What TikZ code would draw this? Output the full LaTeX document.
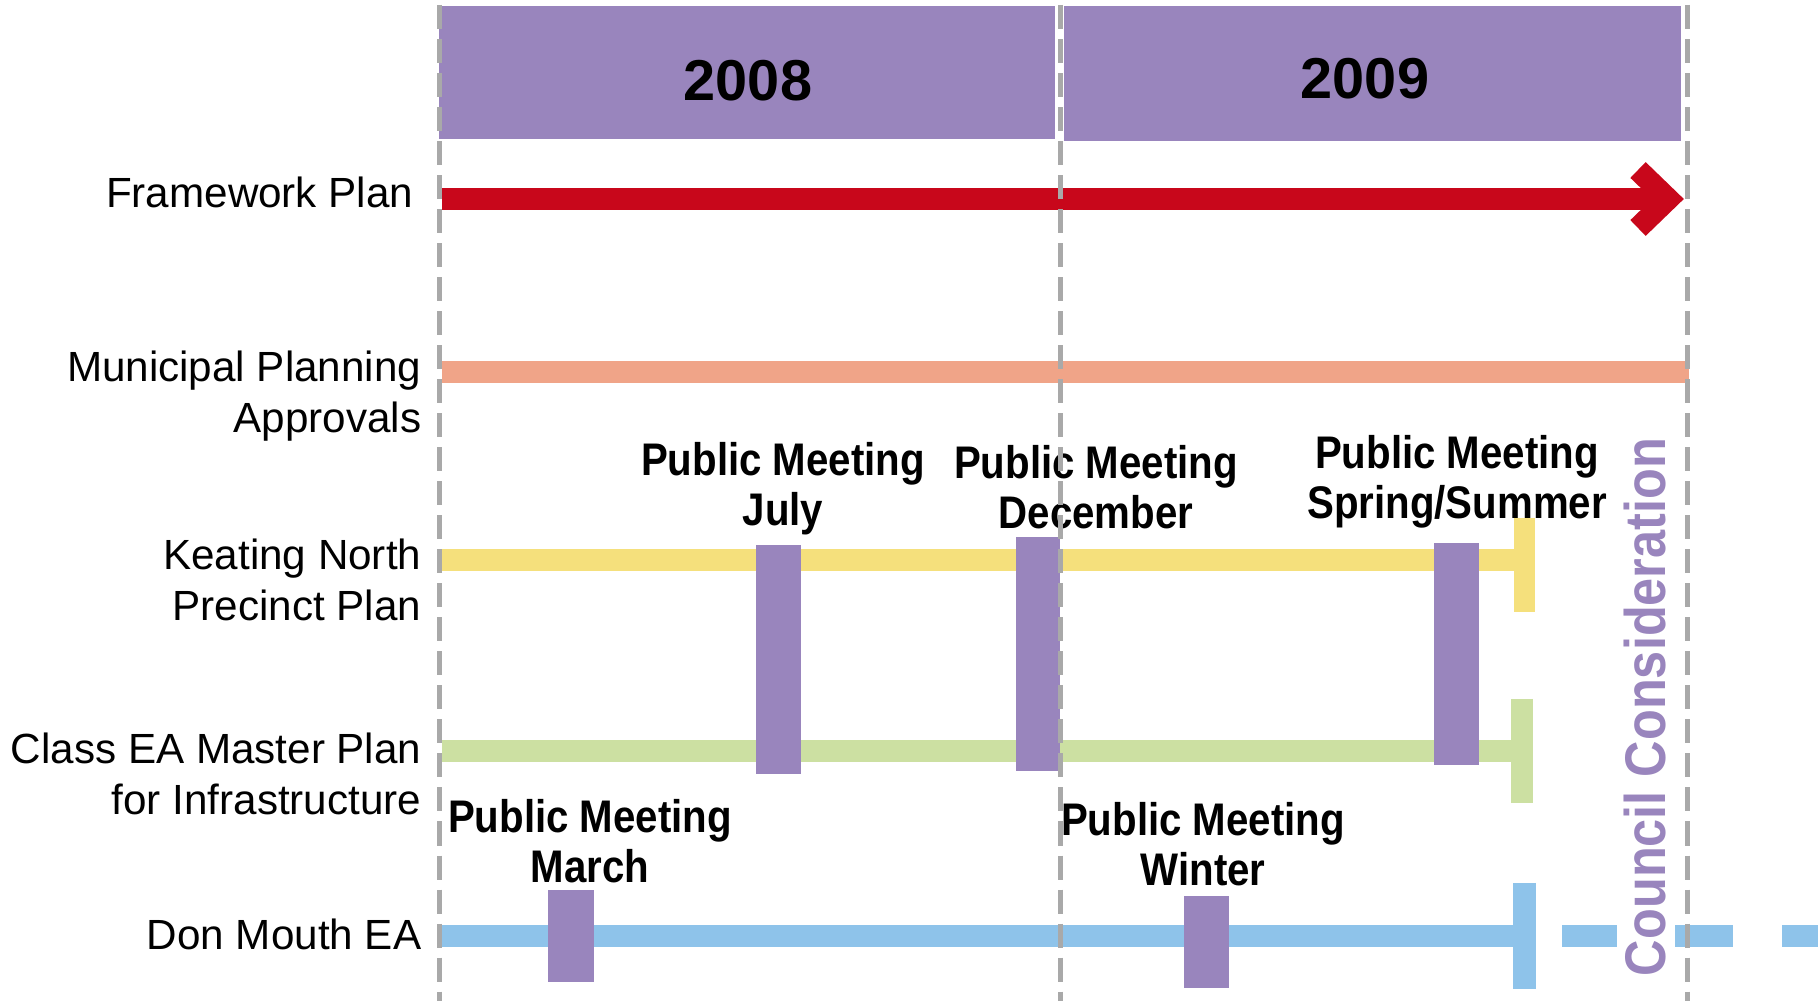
\documentclass[tikz,border=0pt]{standalone}
\usepackage{fontspec}
\setmainfont{Liberation Sans}
\newfontfamily\pmfont{Liberation Sans}[FakeStretch=0.88]
\definecolor{pm}{HTML}{9985BD}
\definecolor{redbar}{HTML}{C8071B}
\definecolor{salmon}{HTML}{F0A488}
\definecolor{yel}{HTML}{F5E07C}
\definecolor{grn}{HTML}{CCE0A2}
\definecolor{blu}{HTML}{8EC3EA}
\definecolor{dashgray}{HTML}{A9A9A9}
\tikzset{
  grid line/.style={draw=dashgray, line width=0.05cm, dash pattern=on 0.24cm off 0.1cm},
  bar/.style={line width=0.22cm},
  meeting/.style={fill=pm},
  yearlabel/.style={font=\bfseries\fontsize{16.4}{19}\selectfont, text=black},
  rowlabel/.style={anchor=east, align=right, font=\fontsize{12}{14.5}\selectfont, inner sep=0pt},
  pmlabel/.style={align=center, font=\pmfont\bfseries\fontsize{13}{14.3}\selectfont, inner sep=0pt},
}
\begin{document}
\begin{tikzpicture}[x=0.01cm,y=-0.01cm]
\useasboundingbox[fill=white] (0,0) rectangle (1818,1001);
% year headers
\fill[pm] (439,6) rectangle (1055,139);
\fill[pm] (1064,6) rectangle (1681,141);
\node[yearlabel] (y2008) at (748,81) {2008};
\node[yearlabel] (y2009) at (1365,79) {2009};
% framework plan arrow
\coordinate (fpS) at (442,199);
\coordinate (fpE) at (1668,199);
\draw[bar, draw=redbar] (fpS) -- (fpE);
\draw[bar, draw=redbar, miter limit=10] (1638,170) -- (fpE) -- (1638,228);
% municipal planning
\coordinate (mpS) at (442,372);
\coordinate (mpE) at (1689,372);
\draw[bar, draw=salmon] (mpS) -- (mpE);
% keating north
\coordinate (knS) at (442,560);
\coordinate (knE) at (1524,560);
\draw[bar, draw=yel] (knS) -- (knE);
\draw[line width=0.21cm, draw=yel] (1524,518) -- (1524,612);
% class EA
\coordinate (ceS) at (442,751);
\coordinate (ceE) at (1522,751);
\draw[bar, draw=grn] (ceS) -- (ceE);
\draw[line width=0.22cm, draw=grn] (1522,699) -- (1522,803);
% don mouth
\coordinate (dmS) at (442,936);
\coordinate (dmE) at (1524,936);
\draw[bar, draw=blu] (dmS) -- (dmE);
\draw[line width=0.23cm, draw=blu] (1524,883) -- (1524,989);
\draw[bar, draw=blu] (1562,936) -- (1617,936);
\draw[bar, draw=blu] (1675,936) -- (1733,936);
\draw[bar, draw=blu] (1782,936) -- (1818,936);
% meeting bars
\fill[meeting] (756,545) rectangle (801,774);
\fill[meeting] (1016,537) rectangle (1060,771);
\fill[meeting] (1434,543) rectangle (1479,765);
\fill[meeting] (548,890) rectangle (594,982);
\fill[meeting] (1184,896) rectangle (1229,988);
% meeting labels
\node[pmlabel] (pmJuly) at (783,489) {Public Meeting\\July};
\node[pmlabel] (pmDec) at (1096,487) {Public Meeting\\December};
\node[pmlabel] (pmSpr) at (1457,482) {Public Meeting\\Spring/Summer};
\node[pmlabel] (pmMar) at (590,841) {Public Meeting\\March};
\node[pmlabel] (pmWin) at (1203,844) {Public Meeting\\Winter};
% council consideration
\node[rotate=90, text=pm, font=\pmfont\bfseries\fontsize{16.3}{19}\selectfont, inner sep=0pt] (council) at (1645,707) {Council Consideration};
% row labels
\node[rowlabel] (lfp) at (414,192) {Framework Plan};
\node[rowlabel] (lmp) at (422,396) {Municipal Planning\\Approvals};
\node[rowlabel] (lkn) at (422,580) {Keating North\\Precinct Plan};
\node[rowlabel] (lce) at (422,774) {Class EA Master Plan\\for Infrastructure};
\node[rowlabel] (ldm) at (422,934) {Don Mouth EA};
% dashed grid lines
\draw[grid line] (439,5) -- (439,1001);
\draw[grid line] (1060,5) -- (1060,1001);
\draw[grid line] (1687,5) -- (1687,1001);
\end{tikzpicture}
\end{document}
